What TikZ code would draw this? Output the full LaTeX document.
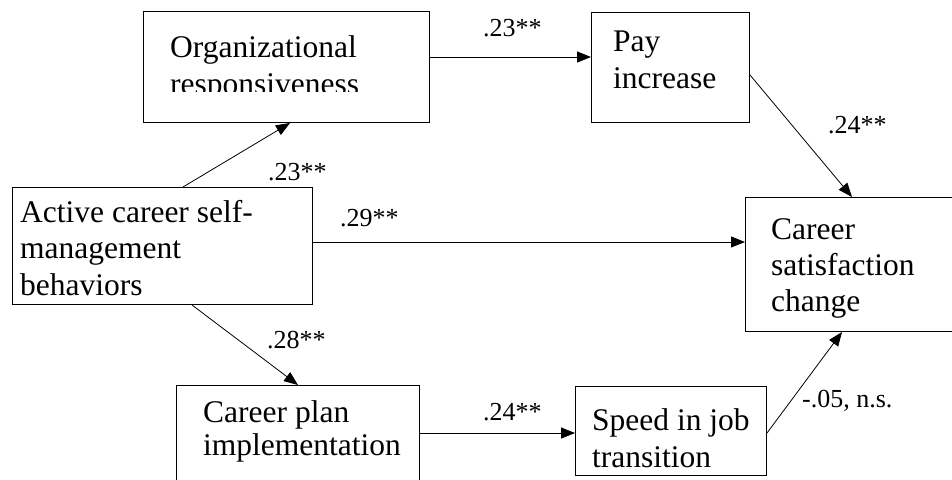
\documentclass[tikz,border=0pt]{standalone}
\usepackage{fontspec}
\setmainfont{Liberation Serif}
\usetikzlibrary{arrows.meta}

\begin{document}
\begin{tikzpicture}[
  x=1pt,y=-1pt,
  >={Triangle[length=14pt,width=11pt]},
  box/.style={draw,line width=1pt,anchor=north west,inner sep=0pt},
  txt/.style={anchor=base west,inner sep=0pt,align=left,font=\fontsize{31.5}{36.5}\selectfont},
  coef/.style={anchor=base west,inner sep=0pt,font=\fontsize{26}{30}\selectfont},
  flow/.style={->,line width=0.8pt}
]
\useasboundingbox (0,0) rectangle (952,479);

% boxes
\node[box,minimum width=286pt,minimum height=111pt] (org) at (143,11) {};
\node[box,minimum width=158pt,minimum height=110pt] (pay) at (591,12) {};
\node[box,minimum width=300pt,minimum height=117pt] (act) at (12,187) {};
\node[box,minimum width=210pt,minimum height=134pt] (cs) at (745,197) {};
\node[box,minimum width=243pt,minimum height=105pt] (cp) at (176,385) {};
\node[box,minimum width=191pt,minimum height=89pt] (sp) at (575,386) {};

% box texts (anchored at the baseline of the last line)
\begin{scope}
\clip (143,11) rectangle (429,91);
\node[txt,font=\fontsize{31.5}{37}\selectfont] (orgtxt) at (170,94) {Organizational\\responsiveness};
\end{scope}
\node[txt] (paytxt) at (613,88) {Pay\\increase};
\node[txt] (acttxt) at (20,295) {Active career self-\\management\\behaviors};
\node[txt,font=\fontsize{31.5}{36}\selectfont] (cstxt) at (771,311) {Career\\satisfaction\\change};
\node[txt,font=\fontsize{31.5}{33}\selectfont] (cptxt) at (203,455) {Career plan\\implementation};
\node[txt,font=\fontsize{31.5}{37}\selectfont] (sptxt) at (592,467) {Speed in job\\transition};

% paths
\draw[flow] ([xshift=171pt]act.north west) -- ([xshift=147pt]org.south west);
\draw[flow] ([yshift=-46pt]org.north east) -- ([yshift=-45pt]pay.north west);
\draw[flow] ([yshift=-55pt]act.north east) -- ([yshift=-45pt]cs.north west);
\draw[flow] ([yshift=-63pt]pay.north east) -- ([xshift=107pt]cs.north west);
\draw[flow] ([xshift=180pt]act.south west) -- ([xshift=122pt]cp.north west);
\draw[flow] ([yshift=-48pt]cp.north east) -- ([yshift=-47pt]sp.north west);
\draw[flow] ([yshift=-47pt]sp.north east) -- ([xshift=97pt]cs.south west);

% coefficients
\node[coef] (c1) at (268,180) {.23**};
\node[coef] (c2) at (483,36) {.23**};
\node[coef] (c3) at (340,226) {.29**};
\node[coef] (c4) at (828,133) {.24**};
\node[coef] (c5) at (267,348) {.28**};
\node[coef] (c6) at (483,420) {.24**};
\node[coef] (c7) at (802,407) {-.05, n.s.};
\end{tikzpicture}
\end{document}
